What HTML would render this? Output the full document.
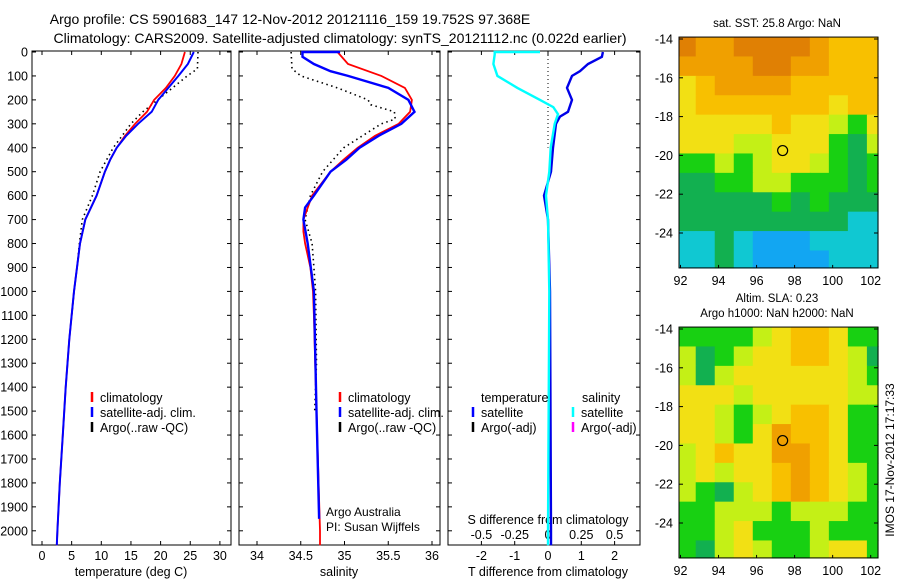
<!DOCTYPE html>
<html><head><meta charset="utf-8"><style>
html,body{margin:0;padding:0;background:#fff;}
svg{display:block;font-family:"Liberation Sans",sans-serif;}
</style></head><body>
<svg id="fig" width="900" height="580" viewBox="0 0 900 580" xmlns="http://www.w3.org/2000/svg">
<text x="290" y="24" font-size="14" text-anchor="middle">Argo profile: CS 5901683_147 12-Nov-2012 20121116_159 19.752S 97.368E</text>
<text x="340" y="43" font-size="14" text-anchor="middle">Climatology: CARS2009. Satellite-adjusted climatology: synTS_20121112.nc (0.022d earlier)</text>
<g id="g"></g>
</svg>
<script>
// ---- data ----
const depthTicks=[0,100,200,300,400,500,600,700,800,900,1000,1100,1200,1300,1400,1500,1600,1700,1800,1900,2000];
const tTicks=[0,5,10,15,20,25,30];
const sTicks=[34,34.5,35,35.5,36];
const tdTicks=[-2,-1,0,1,2];
const sdTicks=[-0.5,-0.25,0,0.25,0.5];
const sdTickLabels=['-0.5','-0.25','0','0.25','0.5'];
const mapLonTicks=[92,94,96,98,100,102];
const mapLatTicks=[-14,-16,-18,-20,-22,-24];

const tClimDepth=[0,50,100,150,200,250,300,350,400,450,500,600,700,800,900,1000,1200,1400,1600,1800,2000,2060];
const tClim=[24.1,23.5,22.4,20.9,18.9,17.7,15.7,14.0,12.6,11.5,10.6,9.2,7.3,6.4,5.9,5.4,4.6,4.0,3.5,3.0,2.6,2.5];
const tSatDepth=[0,50,100,150,200,250,300,350,400,450,500,600,700,800,900,1000,1200,1400,1600,1800,2000,2060];
const tSat=[25.6,24.6,23.0,21.3,19.6,18.5,16.2,14.2,12.6,11.5,10.6,9.2,7.3,6.4,5.9,5.4,4.6,4.0,3.5,3.0,2.6,2.5];
const tArgoDepth=[0,70,100,150,200,250,300,350,400,500,600,700,800,900,1000,1100];
const tArgo=[26.3,26.2,24.5,22.0,19.5,17.0,15.0,13.5,12.0,9.8,8.5,6.8,6.3,5.9,5.4,5.0];

const sClimDepth=[0,50,100,150,200,250,300,350,400,450,500,600,700,750,800,900,1000,1100,1500,2000,2060];
const sClim=[34.92,35.04,35.42,35.69,35.77,35.75,35.62,35.35,35.15,34.99,34.84,34.63,34.53,34.53,34.55,34.61,34.64,34.65,34.68,34.72,34.72];
const sSatDepth=[0,0,20,50,80,100,150,200,250,300,350,400,450,500,600,650,700,800,1000,1500,1950];
const sSat=[34.95,34.52,34.52,34.65,34.84,35.04,35.5,35.73,35.8,35.65,35.39,35.17,35.02,34.84,34.65,34.55,34.53,34.58,34.65,34.68,34.71];
const sArgoDepth=[0,70,100,150,200,220,250,280,300,400,500,600,700,800,900,1000,1300,1500];
const sArgo=[34.39,34.4,34.5,34.92,35.27,35.3,35.57,35.58,35.42,34.99,34.75,34.61,34.55,34.63,34.65,34.67,34.68,34.66];

const tdDepth=[0,20,50,80,100,150,200,250,270,300,400,500,600,650,700,1000,2000,2060];
const tDiff=[1.65,1.62,1.2,0.96,0.72,0.57,0.72,0.6,0.36,0.24,0.15,0.09,-0.12,-0.06,0,0.06,0.09,0.09];
const sdDepth=[0,0,10,50,100,150,200,230,260,300,400,500,600,700,1000,2000,2060];
const sDiff=[-0.06,-0.40,-0.40,-0.41,-0.38,-0.23,-0.06,0.04,0.075,0.05,0.02,0.01,-0.015,0,0.01,0,0];

const sstGrid=[
[8,7,7,8,8,8,8,7,6,6,6],
[7,7,7,7,8,8,7,7,6,6,6],
[5,6,7,7,7,7,6,6,6,6,6],
[5,6,6,6,6,6,6,6,5,6,6],
[5,5,5,5,5,6,5,5,4,3,5],
[5,5,5,4,4,5,5,5,3,2,4],
[3,3,4,3,4,5,5,4,3,2,3],
[2,2,3,3,4,4,3,3,3,2,3],
[2,2,2,2,2,3,2,3,2,2,2],
[2,2,2,2,2,2,2,2,2,1,1],
[1,1,2,1,0,0,0,1,1,1,1],
[1,1,2,1,0,0,0,0,1,1,1]];
const slaGrid=[
[3,3,3,3,4,5,6,6,5,3,3],
[4,2,3,4,5,5,6,6,5,4,2],
[4,2,4,5,5,5,5,5,5,4,3],
[5,5,5,4,5,5,5,5,5,4,4],
[5,5,4,3,4,5,6,6,5,3,3],
[5,5,4,3,5,7,6,6,5,3,3],
[4,5,6,5,5,7,7,6,5,3,3],
[4,5,4,5,5,6,7,6,5,4,3],
[4,3,2,4,5,6,7,6,5,4,3],
[3,3,4,4,4,3,4,4,4,3,3],
[3,3,4,5,3,3,3,4,3,3,3],
[3,2,4,5,4,3,3,4,5,5,3]];
const palette=['#12a6f2','#10c8d2','#12b050','#18d012','#c4f016','#f2e014','#f8c000','#f0a000','#e08004'];

// ---- helpers ----
const NS='http://www.w3.org/2000/svg';
const G=document.getElementById('g');
function mk(tag,attrs,parent){const e=document.createElementNS(NS,tag);for(const k in attrs)e.setAttribute(k,attrs[k]);(parent||G).appendChild(e);return e;}
function txt(x,y,s,size,anchor,name){const e=mk('text',{x:x,y:y,'font-size':size,'text-anchor':anchor||'middle'});e.textContent=s;


return e;}
const Y=d=>52+d*0.2394;
const xT=t=>42+5.93*t;
const xS=s=>257+87.5*(s-34);
const xTD=t=>548+33.3*t;
const xSD=s=>548+133.2*s;
const PT=51,PB=545;
function line(xs,ds,fx,color,w,dash,name){let p='';for(let i=0;i<xs.length;i++)p+=(i?'L':'M')+fx(xs[i]).toFixed(1)+','+Y(ds[i]).toFixed(1);
const e=mk('path',{d:p,fill:'none',stroke:color,'stroke-width':w});if(dash)e.setAttribute('stroke-dasharray',dash);

}
function panel(x0,x1,name){const r=mk('rect',{x:x0,y:PT,width:x1-x0,height:PB-PT,fill:'none',stroke:'#000','stroke-width':1});


depthTicks.forEach(d=>{mk('line',{x1:x0,x2:x0+4,y1:Y(d),y2:Y(d),stroke:'#000'});mk('line',{x1:x1-4,x2:x1,y1:Y(d),y2:Y(d),stroke:'#000'});});}
function xticks(vals,fx,labels,ly,name,top){vals.forEach((v,i)=>{const x=fx(v);mk('line',{x1:x,x2:x,y1:PB-4,y2:PB,stroke:'#000'});if(top)mk('line',{x1:x,x2:x,y1:PT,y2:PT+4,stroke:'#000'});
txt(x,ly,labels?labels[i]:String(v),12.5,'middle',name);});}

// panels
panel(32,231,'temperature-panel');panel(239,440,'salinity-panel');panel(448,640,'difference-panel');
depthTicks.forEach(d=>txt(28,Y(d)+4.5,String(d),12.5,'end','depth-tick-label'));
xticks(tTicks,xT,null,560,'temperature-tick-label',true);
xticks(sTicks,xS,null,560,'salinity-tick-label',true);
xticks(tdTicks,xTD,null,560,'t-diff-tick-label',true);
sdTicks.forEach((v,i)=>txt(xSD(v),539,sdTickLabels[i],12.5,'middle','s-diff-tick-label'));
txt(131,576,'temperature (deg C)',12.5,'middle','x-axis-title-temperature');
txt(339,576,'salinity',12.5,'middle','x-axis-title-salinity');
txt(548,576,'T difference from climatology',12.5,'middle','x-axis-title-t-diff');
txt(548,524,'S difference from climatology',12.5,'middle','x-axis-title-s-diff');
txt(326,516,'Argo Australia',12,'start','credit-line-1');
txt(326,531,'PI: Susan Wijffels',12,'start','credit-line-2');

// zero line
const z=mk('line',{x1:xTD(0),x2:xTD(0),y1:PT,y2:Y(400),stroke:'#000','stroke-dasharray':'1 3'});



// series
line(tArgo,tArgoDepth,xT,'#000',1.6,'1.5 3.5','temp-argo-line');
line(tClim,tClimDepth,xT,'#f00',1.8,null,'temp-climatology-line');
line(tSat,tSatDepth,xT,'#00f',2,null,'temp-satellite-line');
line(sArgo,sArgoDepth,xS,'#000',1.6,'1.5 3.5','sal-argo-line');
line(sClim,sClimDepth,xS,'#f00',1.8,null,'sal-climatology-line');
line(sSat,sSatDepth,xS,'#00f',2.4,null,'sal-satellite-line');
line(tDiff,tdDepth,xTD,'#0000e8',2.4,null,'t-diff-line');
line(sDiff,sdDepth,xSD,'#00ffff',2.4,null,'s-diff-line');

// legends
function leg(x,y,color,label,name){const l=mk('line',{x1:x,x2:x,y1:y-10,y2:y,stroke:color,'stroke-width':2.5});


txt(x+8,y,label,12.5,'start',name);}
leg(92,402,'#f00','climatology','legend-climatology');leg(92,417,'#00f','satellite-adj. clim.','legend-satellite');leg(92,432,'#000','Argo(..raw -QC)','legend-argo');
leg(340,402,'#f00','climatology','legend2-climatology');leg(340,417,'#00f','satellite-adj. clim.','legend2-satellite');leg(340,432,'#000','Argo(..raw -QC)','legend2-argo');
txt(481,402,'temperature',12.5,'start','legend3-temperature-header');txt(582,402,'salinity',12.5,'start','legend3-salinity-header');
leg(473,417,'#00f','satellite','legend3-t-satellite');leg(473,432,'#000','Argo(-adj)','legend3-t-argo');
leg(573,417,'#0ff','satellite','legend3-s-satellite');leg(573,432,'#f0f','Argo(-adj)','legend3-s-argo');

// maps
const lonX=l=>680.5+19.02*(l-92);
function map(grid,top,name){const latY=la=>top+19.4*(-14-la);
const gx=mk('g',{});
grid.forEach((row,r)=>row.forEach((v,c)=>{const x0=Math.max(679,lonX(92+c-0.2)),x1=Math.min(878,lonX(93+c-0.2));const y0=Math.max(latY(-13.9),latY(-14-r+0.1)),y1=Math.min(latY(-25.8),latY(-15-r+0.1));
mk('rect',{x:x0,y:y0,width:x1-x0+0.6,height:y1-y0+0.6,fill:palette[v]},gx);}));
const bx=mk('rect',{x:679,y:latY(-13.9),width:199,height:latY(-25.8)-latY(-13.9),fill:'none',stroke:'#000'});
mapLonTicks.forEach(l=>{mk('line',{x1:lonX(l),x2:lonX(l),y1:latY(-25.8)-3,y2:latY(-25.8),stroke:'#000'});txt(lonX(l),latY(-25.8)+17,String(l),12.5,'middle','map-lon-label');});
mapLatTicks.forEach(la=>{mk('line',{x1:679,x2:683,y1:latY(la),y2:latY(la),stroke:'#000'});mk('line',{x1:874,x2:878,y1:latY(la),y2:latY(la),stroke:'#000'});txt(673,latY(la)+4.5,String(la),12.5,'end','map-lat-label');});
const c=mk('circle',{cx:lonX(97.37),cy:latY(-19.75),r:5,fill:'none',stroke:'#000','stroke-width':1.2});

}
map(sstGrid,39,'sst-map');
map(slaGrid,329,'sla-map');
txt(777,27,'sat. SST: 25.8 Argo: NaN',11.5,'middle','sst-map-title');
txt(777,302,'Altim. SLA: 0.23',11.5,'middle','sla-map-title-1');
txt(777,317,'Argo h1000: NaN h2000: NaN',11.5,'middle','sla-map-title-2');
const im=txt(0,0,'IMOS 17-Nov-2012 17:17:33',12,'middle','imos-timestamp');
im.setAttribute('transform','translate(894,460) rotate(-90)');
</script>
</body></html>
